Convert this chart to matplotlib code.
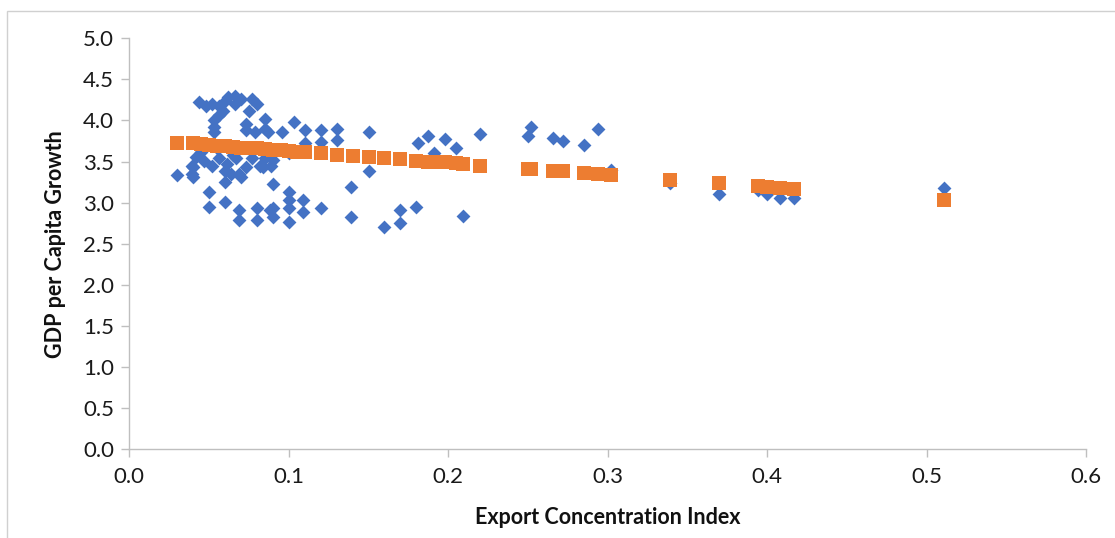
import matplotlib
matplotlib.use("Agg")
import matplotlib.pyplot as plt
from matplotlib.patches import Rectangle

# observed points (export concentration index, GDP per capita growth)
obs_x = [0.030, 0.039, 0.039, 0.040, 0.040, 0.042, 0.044, 0.047, 0.048, 0.050, 0.050,
         0.052, 0.052, 0.053, 0.053, 0.053, 0.056, 0.056, 0.056, 0.059, 0.060, 0.060,
         0.060, 0.060, 0.061, 0.062, 0.064, 0.066, 0.066, 0.067, 0.069, 0.069, 0.069,
         0.070, 0.070, 0.073, 0.073, 0.073, 0.075, 0.077, 0.077, 0.079, 0.080, 0.080,
         0.080, 0.082, 0.084, 0.085, 0.085, 0.085, 0.087, 0.088, 0.089, 0.090, 0.090,
         0.090, 0.090, 0.096, 0.100, 0.100, 0.100, 0.100, 0.100, 0.103, 0.109, 0.109,
         0.110, 0.110, 0.120, 0.120, 0.120, 0.130, 0.130, 0.139, 0.139, 0.150, 0.150,
         0.160, 0.170, 0.170, 0.180, 0.181, 0.187, 0.191, 0.198, 0.205, 0.209, 0.220,
         0.250, 0.252, 0.266, 0.272, 0.285, 0.294, 0.302, 0.339, 0.370, 0.394, 0.400,
         0.408, 0.417, 0.511, 0.045, 0.055, 0.065]
obs_y = [3.34, 3.45, 3.35, 3.43, 3.31, 3.55, 4.22, 3.51, 4.18, 3.13, 2.95,
         4.20, 3.45, 4.00, 3.92, 3.86, 4.18, 4.06, 3.54, 4.12, 4.24, 3.39,
         3.25, 3.01, 3.47, 4.28, 3.35, 4.30, 4.20, 3.54, 3.35, 2.91, 2.79,
         4.26, 3.31, 3.96, 3.88, 3.43, 4.12, 4.26, 3.54, 3.86, 4.20, 2.93,
         2.79, 3.45, 3.43, 4.02, 3.90, 3.54, 3.86, 2.91, 3.45, 3.52, 3.23,
         2.93, 2.83, 3.86, 3.60, 3.13, 3.03, 2.93, 2.77, 3.98, 3.03, 2.89,
         3.88, 3.72, 3.88, 3.74, 2.93, 3.89, 3.76, 3.19, 2.82, 3.86, 3.39,
         2.70, 2.91, 2.75, 2.95, 3.73, 3.81, 3.60, 3.77, 3.67, 2.84, 3.84,
         3.81, 3.92, 3.79, 3.75, 3.70, 3.89, 3.40, 3.24, 3.10, 3.15, 3.10,
         3.06, 3.06, 3.18, 3.62, 3.66, 3.58]

# fitted values (orange squares)
fit_x = [0.030, 0.040, 0.045, 0.050, 0.055, 0.060, 0.065, 0.070, 0.075, 0.080, 0.085,
         0.090, 0.095, 0.100, 0.105, 0.110, 0.120, 0.130, 0.140, 0.150, 0.160, 0.170,
         0.180, 0.187, 0.191, 0.198, 0.205, 0.209, 0.220, 0.250, 0.252, 0.266, 0.272,
         0.285, 0.294, 0.302, 0.339, 0.370, 0.394, 0.400, 0.408, 0.417, 0.511]
fit_y = [3.73, 3.72, 3.71, 3.70, 3.69, 3.69, 3.68, 3.67, 3.66, 3.66, 3.65,
         3.64, 3.64, 3.63, 3.62, 3.61, 3.60, 3.58, 3.57, 3.56, 3.54, 3.53,
         3.51, 3.50, 3.50, 3.49, 3.48, 3.47, 3.45, 3.41, 3.41, 3.39, 3.38,
         3.36, 3.35, 3.33, 3.28, 3.24, 3.20, 3.19, 3.18, 3.17, 3.03]

xticks = [0.0, 0.1, 0.2, 0.3, 0.4, 0.5, 0.6]
yticks = [0.0, 0.5, 1.0, 1.5, 2.0, 2.5, 3.0, 3.5, 4.0, 4.5, 5.0]

plt.rcParams['font.family'] = ['Lato', 'DejaVu Sans']

fig = plt.figure(figsize=(11.15, 5.38), dpi=100)
ax = fig.add_axes([0.116, 0.165, 0.858, 0.764])

ax.scatter(obs_x, obs_y, marker='D', s=50, color='#4472C4', linewidths=0, zorder=2)
ax.scatter(fit_x, fit_y, marker='s', s=100, color='#ED7D31', linewidths=0, zorder=3)

ax.set_xlim(0, 0.6)
ax.set_ylim(0, 5.0)
ax.set_xticks(xticks)
ax.set_yticks(yticks)
ax.set_xticklabels([f"{v:.1f}" for v in xticks])
ax.set_yticklabels([f"{v:.1f}" for v in yticks])

for s in ['top', 'right']:
    ax.spines[s].set_visible(False)
for s in ['left', 'bottom']:
    ax.spines[s].set_color('#BFBFBF')
    ax.spines[s].set_linewidth(1)
ax.tick_params(axis='both', colors='#BFBFBF', labelcolor='#1a1a1a',
               labelsize=16, length=6, width=1, direction='out')
ax.tick_params(axis='x', pad=7)
ax.tick_params(axis='y', pad=5)

ax.set_xlabel('Export Concentration Index', fontsize=15.5, fontweight='bold', color='#111111')
ax.set_ylabel('GDP per Capita Growth', fontsize=15.5, fontweight='bold', color='#111111')
ax.xaxis.set_label_coords(0.5, -0.14)
ax.yaxis.set_label_coords(-0.066, 0.5)

# chart area border (cut by image edge)
fig.patches.append(Rectangle((7 / 1115, -0.05), 1.1, 0.05 + 1 - 11 / 538,
                             transform=fig.transFigure, fill=False,
                             edgecolor='#D0D0D0', linewidth=1))

fig.savefig('out.png', dpi=100)
